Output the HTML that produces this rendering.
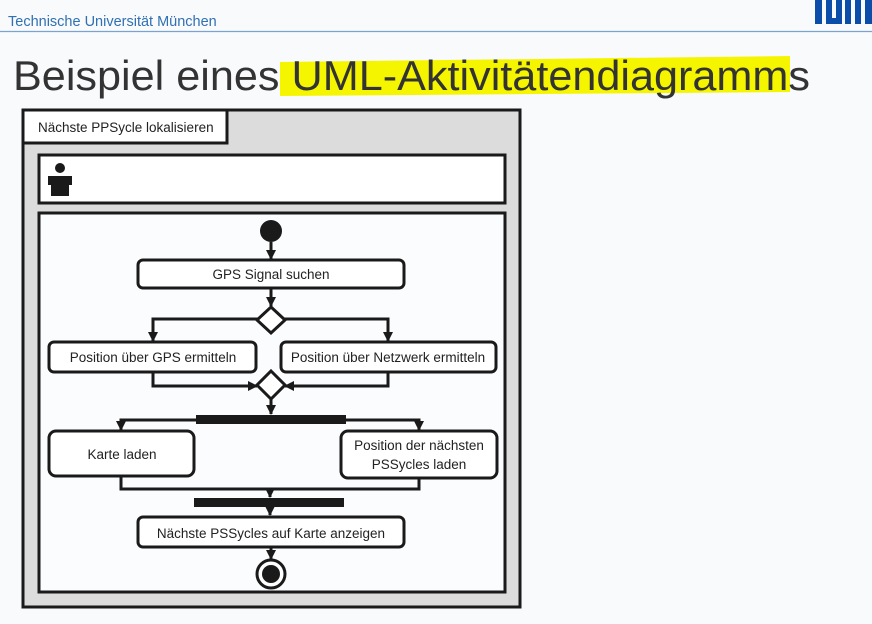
<!DOCTYPE html>
<html><head><meta charset="utf-8"><style>
html,body{margin:0;padding:0;background:#f8fafc;}
body{width:872px;height:624px;position:relative;overflow:hidden;font-family:"Liberation Sans",sans-serif;}
</style></head><body>
<svg width="872" height="624" viewBox="0 0 872 624" xmlns="http://www.w3.org/2000/svg" style="position:absolute;left:0;top:0">
<defs><marker id="a" markerWidth="10" markerHeight="10" refX="9" refY="5" orient="auto" markerUnits="userSpaceOnUse"><path d="M0,0 L10,5 L0,10 Z" fill="#1a1a1a"/></marker></defs>
<text x="8" y="26" font-size="14.5" fill="#3070b3" font-family="Liberation Sans">Technische Universität München</text>
<line x1="0" y1="31.5" x2="872" y2="31.5" stroke="#7aa3cf" stroke-width="1.2"/>
<g fill="#0a4eaa">
<rect x="815" y="0" width="7" height="24"/>
<rect x="826" y="0" width="6" height="24"/><rect x="836" y="0" width="6" height="24"/><rect x="826" y="18" width="16" height="6"/>
<rect x="845" y="0" width="6" height="24"/><rect x="855" y="0" width="6" height="24"/><rect x="865" y="0" width="7" height="24"/>
</g>
<polygon points="280,62 790,56 790,92 280,96" fill="#f5f500"/>
<text x="13" y="90" font-size="42" fill="#333" font-family="Liberation Sans" textLength="797" lengthAdjust="spacingAndGlyphs">Beispiel eines UML-Aktivitätendiagramms</text>

<rect x="23" y="110" width="497" height="497" fill="#dcdcdc" stroke="#1a1a1a" stroke-width="3"/>
<rect x="23" y="110" width="204" height="33" fill="#fff" stroke="#1a1a1a" stroke-width="3"/>
<text x="38" y="132" font-size="13.5" fill="#222">Nächste PPSycle lokalisieren</text>
<rect x="39" y="155" width="466" height="48" fill="#fff" stroke="#1a1a1a" stroke-width="3"/>
<circle cx="60" cy="168" r="5" fill="#1a1a1a"/>
<path d="M48,176 H72 V185 H69 V196 H51 V185 H48 Z" fill="#1a1a1a"/>
<rect x="39" y="213" width="466" height="379" fill="#fbfcfe" stroke="#1a1a1a" stroke-width="3"/>

<g stroke="#1a1a1a" stroke-width="3" fill="none">
<line x1="271" y1="242" x2="271" y2="259" marker-end="url(#a)"/>
<line x1="271" y1="289" x2="271" y2="306" marker-end="url(#a)"/>
<polyline points="258,319 153,319 153,341" marker-end="url(#a)"/>
<polyline points="284,319 388,319 388,341" marker-end="url(#a)"/>
<polyline points="153,372 153,386 257,386" marker-end="url(#a)"/>
<polyline points="388,372 388,386 285,386" marker-end="url(#a)"/>
<line x1="271" y1="398" x2="271" y2="414" marker-end="url(#a)"/>
<polyline points="196,420 121,420 121,430" marker-end="url(#a)"/>
<polyline points="346,420 419,420 419,430" marker-end="url(#a)"/>
<polyline points="121,476 121,489 419,489 419,478"/>
<line x1="270" y1="489" x2="270" y2="497" marker-end="url(#a)"/>
<line x1="270" y1="507" x2="270" y2="515" marker-end="url(#a)"/>
<line x1="271" y1="547" x2="271" y2="559" marker-end="url(#a)"/>
</g>
<circle cx="271" cy="231" r="11" fill="#1a1a1a"/>
<g stroke="#1a1a1a" stroke-width="3" fill="#fff">
<rect x="138" y="260" width="266" height="28" rx="5"/>
<polygon points="271,307 285,320 271,333 257,320"/>
<rect x="49" y="342" width="207" height="30" rx="5"/>
<rect x="281" y="342" width="215" height="30" rx="5"/>
<polygon points="271,371 285,385 271,399 257,385"/>
<rect x="49" y="431" width="145" height="45" rx="7"/>
<rect x="341" y="431" width="156" height="47" rx="7"/>
<rect x="138" y="517" width="266" height="30" rx="5"/>
<circle cx="271" cy="574" r="14"/>
</g>
<circle cx="271" cy="574" r="9" fill="#1a1a1a"/>
<rect x="196" y="415" width="150" height="9" fill="#1a1a1a"/>
<rect x="194" y="498" width="150" height="9" fill="#1a1a1a"/>
<g font-size="13.5" fill="#222" text-anchor="middle">
<text x="271" y="279">GPS Signal suchen</text>
<text x="153" y="362">Position über GPS ermitteln</text>
<text x="388" y="362">Position über Netzwerk ermitteln</text>
<text x="122" y="459">Karte laden</text>
<text x="419" y="450">Position der nächsten</text>
<text x="419" y="469">PSSycles laden</text>
<text x="271" y="538">Nächste PSSycles auf Karte anzeigen</text>
</g>
</svg>
</body></html>
